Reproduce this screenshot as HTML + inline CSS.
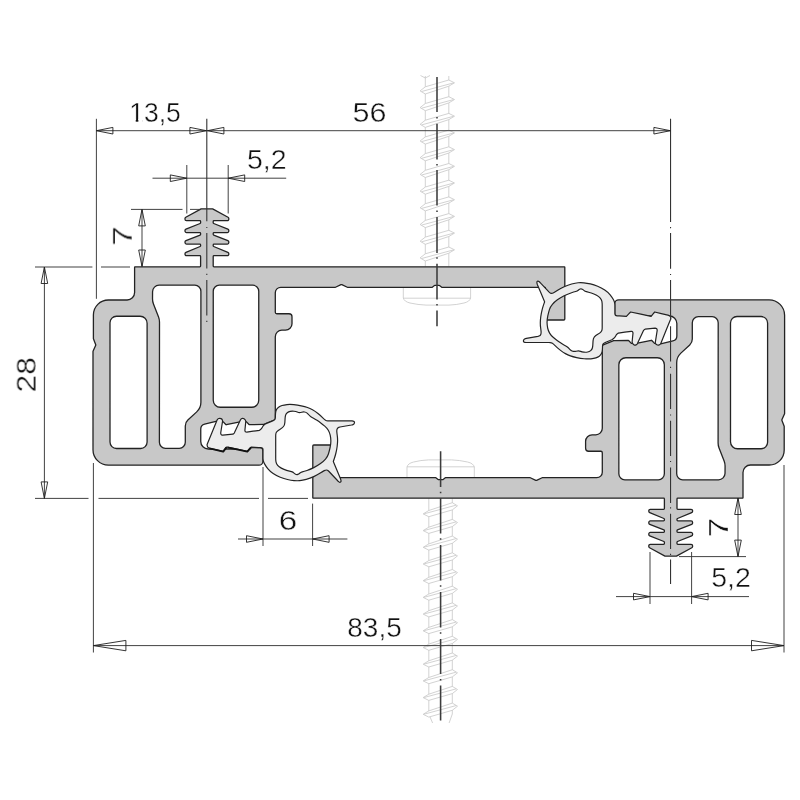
<!DOCTYPE html>
<html lang="de">
<head>
<meta charset="utf-8">
<title>Profil 83,5 x 28</title>
<style>
html,body{margin:0;padding:0;background:#fff;}
body{width:800px;height:800px;overflow:hidden;}
svg{display:block;}
text{font-family:"Liberation Sans","DejaVu Sans",sans-serif;font-size:285px;fill:#111;stroke:#fff;}
</style>
</head>
<body>
<svg width="800" height="800" viewBox="0 0 800 800">
<rect width="800" height="800" fill="#fff"/>
<defs>
<g id="screw" fill="none" stroke="#c6c6c6" stroke-width="0.8" stroke-linejoin="round">
<path d="M425.3 76L425.3 266.5 M448.8 76L448.8 266.5M420.5 75.5L425.3 78L430 75.5"/>
<path d="M420.1 90.9L425.3 86.8L448.8 80L454.5 82.8L448.8 86.2L425.3 94ZM421.6 91.5L453.5 82.9M420.1 107.6L425.3 103.5L448.8 96.7L454.5 99.5L448.8 102.9L425.3 110.7ZM421.6 108.2L453.5 99.6M420.1 124.3L425.3 120.2L448.8 113.4L454.5 116.2L448.8 119.6L425.3 127.4ZM421.6 124.9L453.5 116.3M420.1 141L425.3 136.9L448.8 130.1L454.5 132.9L448.8 136.3L425.3 144.1ZM421.6 141.6L453.5 133M420.1 157.7L425.3 153.6L448.8 146.8L454.5 149.6L448.8 153L425.3 160.8ZM421.6 158.3L453.5 149.7M420.1 174.4L425.3 170.3L448.8 163.5L454.5 166.3L448.8 169.7L425.3 177.5ZM421.6 175L453.5 166.4M420.1 191.1L425.3 187L448.8 180.2L454.5 183L448.8 186.4L425.3 194.2ZM421.6 191.7L453.5 183.1M420.1 207.8L425.3 203.7L448.8 196.9L454.5 199.7L448.8 203.1L425.3 210.9ZM421.6 208.4L453.5 199.8M420.1 224.5L425.3 220.4L448.8 213.6L454.5 216.4L448.8 219.8L425.3 227.6ZM421.6 225.1L453.5 216.5M420.1 241.2L425.3 237.1L448.8 230.3L454.5 233.1L448.8 236.5L425.3 244.3ZM421.6 241.8L453.5 233.2M420.1 257.9L425.3 253.8L448.8 247L454.5 249.8L448.8 253.2L425.3 261ZM421.6 258.5L453.5 249.9" fill="#fff"/>
<path d="M403.3 288L403.3 298Q404.2 301.6 410 303Q418 304.8 426 305.1L449 305.1Q457 304.8 464 303Q469.8 301.6 470.6 298L470.6 288M403.3 298.2L470.6 298.2"/>
</g>
<g id="screw2" fill="none" stroke="#c6c6c6" stroke-width="0.8" stroke-linejoin="round">
<path d="M425.3 51L425.3 266.5 M448.8 51L448.8 266.5M425.3 51L428.5 42 M448.8 51L445 42"/>
<path d="M420.1 58.8L425.3 54.7L448.8 47.9L454.5 50.7L448.8 54.1L425.3 61.9ZM421.6 59.4L453.5 50.8M420.1 75.5L425.3 71.4L448.8 64.6L454.5 67.4L448.8 70.8L425.3 78.6ZM421.6 76.1L453.5 67.5M420.1 92.2L425.3 88.1L448.8 81.3L454.5 84.1L448.8 87.5L425.3 95.3ZM421.6 92.8L453.5 84.2M420.1 108.9L425.3 104.8L448.8 98L454.5 100.8L448.8 104.2L425.3 112ZM421.6 109.5L453.5 100.9M420.1 125.6L425.3 121.5L448.8 114.7L454.5 117.5L448.8 120.9L425.3 128.7ZM421.6 126.2L453.5 117.6M420.1 142.3L425.3 138.2L448.8 131.4L454.5 134.2L448.8 137.6L425.3 145.4ZM421.6 142.9L453.5 134.3M420.1 159L425.3 154.9L448.8 148.1L454.5 150.9L448.8 154.3L425.3 162.1ZM421.6 159.6L453.5 151M420.1 175.7L425.3 171.6L448.8 164.8L454.5 167.6L448.8 171L425.3 178.8ZM421.6 176.3L453.5 167.7M420.1 192.4L425.3 188.3L448.8 181.5L454.5 184.3L448.8 187.7L425.3 195.5ZM421.6 193L453.5 184.4M420.1 209.1L425.3 205L448.8 198.2L454.5 201L448.8 204.4L425.3 212.2ZM421.6 209.7L453.5 201.1M420.1 225.8L425.3 221.7L448.8 214.9L454.5 217.7L448.8 221.1L425.3 228.9ZM421.6 226.4L453.5 217.8M420.1 242.5L425.3 238.4L448.8 231.6L454.5 234.4L448.8 237.8L425.3 245.6ZM421.6 243.1L453.5 234.5M420.1 259.2L425.3 255.1L448.8 248.3L454.5 251.1L448.8 254.5L425.3 262.3ZM421.6 259.8L453.5 251.2" fill="#fff"/>
<path d="M403.3 288L403.3 298Q404.2 301.6 410 303Q418 304.8 426 305.1L449 305.1Q457 304.8 464 303Q469.8 301.6 470.6 298L470.6 288M403.3 298.2L470.6 298.2"/>
</g>
<g id="half">
<path d="M134.6 267.15A0.3 0.3 0 0 1 134.9 266.85L199.8 266.85A0.8 0.8 0 0 0 200.6 266.05L200.6 256.5A0.8 0.8 0 0 0 199.8 255.7L186.5 255.7A1.5 1.5 0 0 1 185 254.2L185 253.71A1.5 1.5 0 0 1 185.93 252.32L200.1 246.5A0.8 0.8 0 0 0 200.6 245.76L200.6 244.9A0.8 0.8 0 0 0 199.8 244.1L186.5 244.1A1.5 1.5 0 0 1 185 242.6L185 242.12A1.5 1.5 0 0 1 185.95 240.72L200.1 235.1A0.8 0.8 0 0 0 200.6 234.36L200.6 233.4A0.8 0.8 0 0 0 199.8 232.6L186.5 232.6A1.5 1.5 0 0 1 185 231.1L185 230.61A1.5 1.5 0 0 1 185.94 229.22L200.1 223.5A0.8 0.8 0 0 0 200.6 222.76L200.6 221.5A0.8 0.8 0 0 0 199.8 220.7L186.5 220.7A1.5 1.5 0 0 1 185 219.2L185 218.59A1.5 1.5 0 0 1 185.78 217.27L201.17 208.92A0.6 0.6 0 0 1 201.45 208.85L212.35 208.85A0.6 0.6 0 0 1 212.63 208.92L228.02 217.27A1.5 1.5 0 0 1 228.8 218.59L228.8 219.2A1.5 1.5 0 0 1 227.3 220.7L214 220.7A0.8 0.8 0 0 0 213.2 221.5L213.2 222.76A0.8 0.8 0 0 0 213.7 223.5L227.86 229.22A1.5 1.5 0 0 1 228.8 230.61L228.8 231.1A1.5 1.5 0 0 1 227.3 232.6L214 232.6A0.8 0.8 0 0 0 213.2 233.4L213.2 234.36A0.8 0.8 0 0 0 213.7 235.1L227.85 240.72A1.5 1.5 0 0 1 228.8 242.12L228.8 242.6A1.5 1.5 0 0 1 227.3 244.1L214 244.1A0.8 0.8 0 0 0 213.2 244.9L213.2 245.76A0.8 0.8 0 0 0 213.7 246.5L227.87 252.32A1.5 1.5 0 0 1 228.8 253.71L228.8 254.2A1.5 1.5 0 0 1 227.3 255.7L214 255.7A0.8 0.8 0 0 0 213.2 256.5L213.2 266.05A0.8 0.8 0 0 0 214 266.85L564.5 266.85A0.3 0.3 0 0 1 564.8 267.15L564.8 319A1 1 0 0 1 563.8 320L546.1 320A0.8 0.8 0 0 1 545.3 319.2L545.3 287.6A0.3 0.3 0 0 0 545 287.3L441.9 287.3A0.3 0.3 0 0 1 441.72 287.24L439.51 285.56A0.8 0.8 0 0 0 439.03 285.4L434.97 285.4A0.8 0.8 0 0 0 434.49 285.56L432.28 287.24A0.3 0.3 0 0 1 432.1 287.3L347.51 287.3A0.5 0.5 0 0 1 347.3 287.25L341.82 284.7A1 1 0 0 0 340.98 284.7L335.5 287.25A0.5 0.5 0 0 1 335.29 287.3L280.8 287.3A5.5 5.5 0 0 0 275.3 292.8L275.3 312.25A1.5 1.5 0 0 0 276.8 313.75L289 313.75A3 3 0 0 1 292 316.75L292 323.7A6.5 6.5 0 0 1 285.5 330.2L281.8 330.2A6.5 6.5 0 0 0 275.3 336.7L275.3 418.74A1.5 1.5 0 0 1 274.36 420.13L263.92 424.33A1 1 0 0 1 263.57 424.4L249.46 424.69A0.6 0.6 0 0 1 249.02 424.51L246.26 421.67A0.2 0.2 0 0 0 246.11 421.6L240.02 421.9A0.2 0.2 0 0 0 239.98 421.9L226.33 424.73A0.6 0.6 0 0 1 225.77 424.55L223.05 421.66A0.2 0.2 0 0 0 222.92 421.59L217.03 421.2A0.2 0.2 0 0 0 216.97 421.21L204.64 424.01A5 5 0 0 0 200.75 428.89L200.75 441.5A7.5 7.5 0 0 0 208.25 449L249.7 449A0.3 0.3 0 0 0 250 448.7L250 448A0.3 0.3 0 0 1 250.3 447.7L259.9 447.7A3 3 0 0 1 262.9 450.7L262.9 461.2A4 4 0 0 1 258.9 465.2L108.5 465.2A15.5 15.5 0 0 1 93 449.7L93 351.5A0.5 0.5 0 0 1 93.04 351.3L95.72 345.19A0.5 0.5 0 0 0 95.73 344.81L93.43 338.68A0.5 0.5 0 0 1 93.4 338.51L93.4 315A15 15 0 0 1 108.4 300L127.1 300A7.5 7.5 0 0 0 134.6 292.5ZM110 322.75A6.5 6.5 0 0 1 116.5 316.25L140.1 316.25A7 7 0 0 1 147.1 323.25L147.1 442A6.5 6.5 0 0 1 140.6 448.5L116.5 448.5A6.5 6.5 0 0 1 110 442ZM152.56 291.66A6.5 6.5 0 0 1 159.06 285.2L194.9 285.2A6 6 0 0 1 200.9 291.2L200.9 402.31A13 13 0 0 1 196.72 411.86L187.87 420.02A8 8 0 0 0 185.3 425.9L185.3 442.3A6 6 0 0 1 179.3 448.3L165.4 448.3A6 6 0 0 1 159.4 442.3L159.5 322.13A14 14 0 0 0 158.55 317.05L153.47 303.99A14 14 0 0 1 152.52 298.83ZM213.25 291.2A6 6 0 0 1 219.25 285.2L252.75 285.2A6 6 0 0 1 258.75 291.2L258.75 400.25A7 7 0 0 1 251.75 407.25L220.25 407.25A7 7 0 0 1 213.25 400.25Z" fill="#c8c8c8" fill-rule="evenodd" stroke="#232323" stroke-width="1.3" stroke-linejoin="round"/>
</g>
<path id="gasket" d="M207.25 445.95L207.1 444.6L211.9 432.8L216.7 421L217.1 420Q217.5 419 218.7 418.5Q219.9 418 221.05 418.6Q222.2 419.2 222.4 420.1L222.6 421L221.65 427L220.7 433L220.85 433.95Q221 434.9 221.9 435.05L222.8 435.2L227.8 434.7L232.8 434.2L233.35 433.9Q233.9 433.6 234.15 433.2L234.4 432.8L237.2 426.8L240 420.8L240.4 419.9Q240.8 419 241.85 418.5Q242.9 418 244.05 418.7Q245.2 419.4 245.5 420.4L245.8 421.4L245.35 425.85L244.9 430.3L245.05 431.1Q245.2 431.9 246 432L246.8 432.1L253.15 431.2L259.5 430.3L260.5 429.55Q261.5 428.8 262.35 427.2Q263.2 425.6 264.6 424.6L266 423.6L269.65 422.1Q273.3 420.6 274.3 419.95Q275.3 419.3 275.35 417.65L275.4 416L275.5 413.75Q275.6 411.5 276.4 409.85Q277.2 408.2 278.6 407.2Q280 406.2 282 405.55Q284 404.9 287 404.6Q290 404.3 293.75 404.65Q297.5 405 301.25 405.8Q305 406.6 307.5 407.5Q310 408.4 312.5 409.75Q315 411.1 318 413.55Q321 416 322.8 417.8Q324.6 419.6 325.55 420.2Q326.5 420.8 327.75 420.85L329 420.9L340.5 420.9L352 420.9L353.15 421.05Q354.3 421.2 354.45 422.1Q354.6 423 354 423.8Q353.4 424.6 352.45 424.8L351.5 425L345.75 426L340 427L338.8 427.4Q337.6 427.8 337.15 428.9Q336.7 430 336.8 431.5Q336.9 433 337.25 435.5Q337.6 438 337.6 440.5Q337.6 443 337.15 446.5Q336.7 450 335.8 453.5Q334.9 457 334.25 458.75Q333.6 460.5 333.45 461.05L333.3 461.6L336.95 470.3L340.6 479L340.95 480.3Q341.3 481.6 340.55 482.1Q339.8 482.6 338.9 481.9Q338 481.2 337.5 480.6L337 480L333 475.75L329 471.5L328.2 470.75Q327.4 470 326.45 470Q325.5 470 324.25 470.65Q323 471.3 320.25 473.05Q317.5 474.8 313.75 476.6Q310 478.4 306.25 479.4Q302.5 480.4 299.75 480.65Q297 480.9 294 480.6Q291 480.3 287.5 479.5Q284 478.7 280.25 477.2Q276.5 475.7 273.15 473.45Q269.8 471.2 267.75 468.6Q265.7 466 264.7 464.15Q263.7 462.3 263.4 461.15Q263.1 460 263.05 459L263 458L263 454.75L263 451.5L263 449.55Q263 447.6 260.75 447.6L258.5 447.6L255 447.3L251.5 447L249.4 449.2L247.3 451.4L237.05 449.2L226.8 447L225 449.2L223.2 451.4L216.6 449.85L210 448.3L208.7 447.8Q207.4 447.3 207.25 445.95ZM275.7 451.5L275.7 445L275.7 440.5L275.7 436L275.75 434.4Q275.8 432.8 276.9 431.6Q278 430.4 280.15 429.2Q282.3 428 283.5 426.5Q284.7 425 284.85 422.5Q285 420 285.1 418.25Q285.2 416.5 285.6 415.15Q286 413.8 287.25 412.8Q288.5 411.8 290.25 411.4Q292 411 294 411.25Q296 411.5 297.25 412.05Q298.5 412.6 299.5 412.6Q300.5 412.6 301.75 412.2Q303 411.8 304.5 412Q306 412.2 307.1 413.1Q308.2 414 309 415Q309.8 416 310.9 416.7Q312 417.4 313.5 418.2Q315 419 317 420.3Q319 421.6 320.75 422.9Q322.5 424.2 324.75 426.1Q327 428 328.3 430.25Q329.6 432.5 330.2 435.15Q330.8 437.8 330.85 440.8Q330.9 443.8 330.1 447.5Q329.3 451.2 328.4 454Q327.5 456.8 325.5 459.1Q323.5 461.4 320.5 463.6Q317.5 465.8 313.75 467.65Q310 469.5 307 470.45Q304 471.4 302.25 471.9Q300.5 472.4 299.65 473.2Q298.8 474 297.75 474.4Q296.7 474.8 295.6 474.2Q294.5 473.6 293.75 472.85Q293 472.1 291.5 471.7Q290 471.3 288.5 470.9Q287 470.5 284 469.35Q281 468.2 279.2 466.75Q277.4 465.3 276.6 463.65Q275.8 462 275.75 460L275.7 458L275.7 451.5Z" fill="#ececec" fill-rule="evenodd" stroke="#232323" stroke-width="1.2" stroke-linejoin="round"/>

</defs>
<g id="screws">
<use href="#screw"/>
<use href="#screw2" transform="rotate(180 438.8 382.5)"/>
</g>
<use href="#half"/>
<use href="#half" transform="rotate(180 438.8 382.5)"/>
<path d="M330.5 474.5L334 474.5L337 479.5L330.5 479.5Z" fill="#c8c8c8"/>
<use href="#gasket"/>
<path d="M209.5 448.4L223.2 451.6L226.4 447.4 M227.5 447.4L247.3 451.6L251 447.4" fill="none" stroke="#111" stroke-width="1.9" stroke-linejoin="round"/>
<use href="#gasket" transform="translate(0.3 -1.6) rotate(180 438.8 382.5)"/>
<path d="M437 76.9L437 112M437 123.75L437 159.4M437 170L437 205.6M437 216.9L437 253.1M437 263.75L437 299.4M437 310.6L437 326.3M437 117.1L437 118.5M437 164.1L437 165.5M437 210.6L437 212M437 257.3L437 258.7M437 304.1L437 305.5M440.6 451.25L440.6 487M440.6 498L440.6 533.5M440.6 545L440.6 580.5M440.6 592L440.6 627.5M440.6 639L440.6 674M440.6 685.5L440.6 720.6M440.6 491.8L440.6 493.2M440.6 538.3L440.6 539.7M440.6 585.3L440.6 586.7M440.6 632.3L440.6 633.7M440.6 679.1L440.6 680.5" fill="none" stroke="#3c3c3c" stroke-width="1.55"/>
<path d="M206.8 118.8L206.8 221.3M206.8 233L206.8 268.6M206.8 280L206.8 315.6M206.8 226.9L206.8 228.1M206.8 273.8L206.8 275M206.8 320.7L206.8 321.9M670.55 118.8L670.55 222M670.55 233L670.55 268.7M670.55 280L670.55 320M670.55 326.3L670.55 361.5M670.55 373.8L670.55 409M670.55 420.7L670.55 456M670.55 467.6L670.55 503M670.55 513.8L670.55 549M670.55 559.5L670.55 584M670.55 227L670.55 228.2M670.55 273.9L670.55 275.1M670.55 366.7L670.55 367.9M670.55 414.4L670.55 415.6M670.55 460.9L670.55 462.1M670.55 507.2L670.55 508.4M670.55 553.7L670.55 554.9" fill="none" stroke="#333" stroke-width="1.1"/>
<path d="M96.4 130.7L670.4 130.7M96.4 118.8L96.4 298.8M152.5 178.2L286.2 178.2M186.8 165L186.8 213.5M228.2 165L228.2 213.5M142 209.4L142 266.5M131 209.4L182.5 209.4M190 209.4L201 209.4M44.4 267L44.4 498.4M35 267L92.4 267M101 267L130 267M35 498.4L88.5 498.4M98.5 498.4L259 498.4M268 498.4L308 498.4M238 539L347.4 539M263 467L263 546M312.6 503.6L312.6 546M93.4 645.6L784 645.6M93.4 463L93.4 652.5M784 465L784 652.5M738 498L738 556.6M679 556.6L746 556.6M616 596.6L749 596.6M650 552L650 604M691.6 552L691.6 604" fill="none" stroke="#383838" stroke-width="0.95"/>
<path d="M96.4 130.7L112.9 134L112.9 127.4ZM206.4 130.7L189.9 127.4L189.9 134ZM207.4 130.7L223.9 134L223.9 127.4ZM670.4 130.7L653.9 127.4L653.9 134ZM186.8 178.2L170.3 174.9L170.3 181.5ZM228.2 178.2L244.7 181.5L244.7 174.9ZM142 209.4L138.7 225.9L145.3 225.9ZM142 266.5L145.3 250L138.7 250ZM44.4 267L41.1 283.5L47.7 283.5ZM44.4 498.4L47.7 481.9L41.1 481.9ZM263 539L246.5 535.7L246.5 542.3ZM312.6 539L329.1 542.3L329.1 535.7ZM93.4 645.6L125.9 650.8L125.9 640.4ZM784 645.6L751.5 640.4L751.5 650.8ZM738 498L734.7 514.5L741.3 514.5ZM738 556.6L741.3 540.1L734.7 540.1ZM650 596.6L633.5 593.3L633.5 599.9ZM691.6 596.6L708.1 599.9L708.1 593.3Z" fill="none" stroke="#1e1e1e" stroke-width="0.9" stroke-linejoin="miter"/>
<g opacity="0.999">
<g transform="translate(155 121.7) scale(0.0930 0.1)"><text x="0" y="0" text-anchor="middle" stroke-width="4">13,5</text><path d="M-263.43 2V-24.71H-207.18V2Z M-178.99 2V-24.71H-131.92V2Z" fill="#fff" stroke="none"/></g>
<g transform="translate(369.4 121.9) scale(0.1070 0.1)"><text x="0" y="0" text-anchor="middle" stroke-width="4">56</text></g>
<g transform="translate(266.8 169.4) scale(0.1000 0.1)"><text x="0" y="0" text-anchor="middle" stroke-width="4">5,2</text></g>
<g transform="translate(132 236) rotate(-90) scale(0.1250 0.1)"><text x="0" y="0" text-anchor="middle" stroke-width="4">7</text></g>
<g transform="translate(35.6 374.8) rotate(-90) scale(0.1120 0.1)"><text x="0" y="0" text-anchor="middle" stroke-width="4">28</text></g>
<g transform="translate(288 530) scale(0.1170 0.1)"><text x="0" y="0" text-anchor="middle" stroke-width="4">6</text></g>
<g transform="translate(374.5 637) scale(0.0980 0.1)"><text x="0" y="0" text-anchor="middle" stroke-width="4">83,5</text></g>
<g transform="translate(728 527.6) rotate(-90) scale(0.1250 0.1)"><text x="0" y="0" text-anchor="middle" stroke-width="4">7</text></g>
<g transform="translate(731 587) scale(0.1000 0.1)"><text x="0" y="0" text-anchor="middle" stroke-width="4">5,2</text></g>
</g>
</svg>
</body>
</html>
